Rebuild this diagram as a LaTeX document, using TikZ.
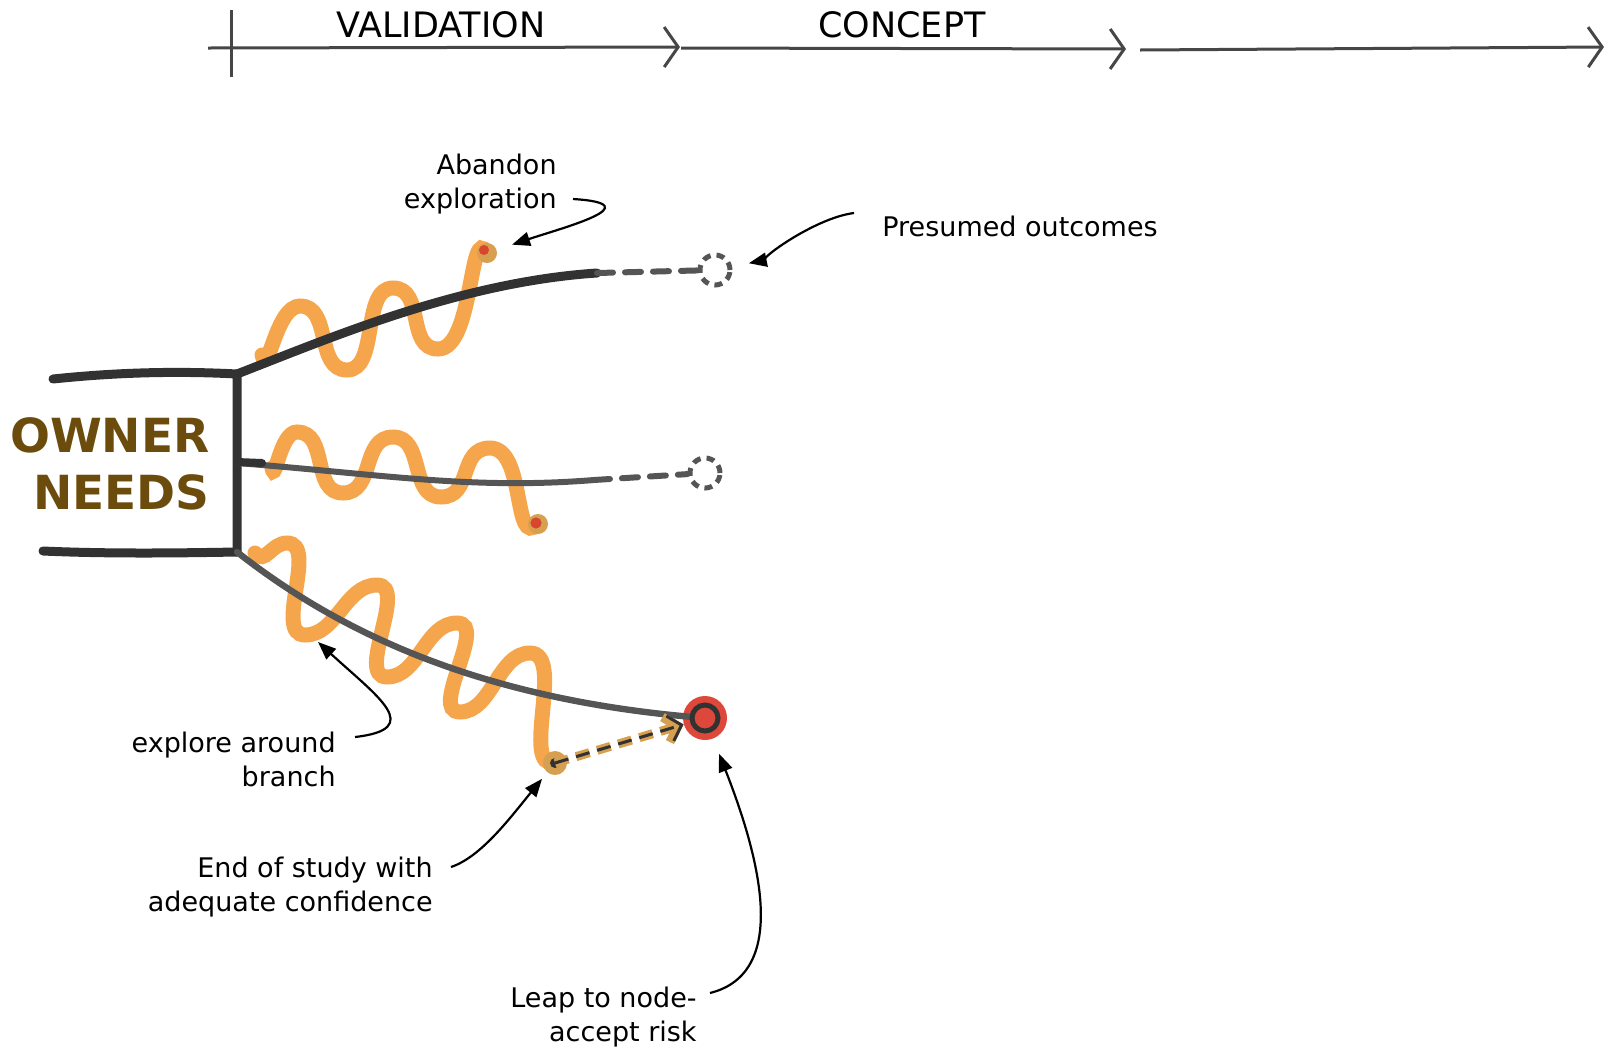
\documentclass[tikz,border=0pt]{standalone}
\usepackage{fontspec}
\setmainfont{DejaVu Sans}
\usetikzlibrary{arrows.meta}
\definecolor{ink}{RGB}{50,50,50}
\definecolor{wiggle}{RGB}{245,166,76}
\definecolor{dotbrown}{RGB}{214,160,80}
\definecolor{speck}{RGB}{215,70,45}
\definecolor{leafred}{RGB}{222,72,58}
\definecolor{dashgray}{RGB}{85,85,85}
\definecolor{timegray}{RGB}{70,70,70}
\definecolor{ownerbrown}{RGB}{107,76,12}
\begin{document}
\begin{tikzpicture}
	[x=0.5pt, y=-0.5pt,
	phase/.style={font=\fontsize{17.5}{20}\selectfont, inner sep=0pt},
	remark/.style={font=\fontsize{13.5}{17}\selectfont, align=right, inner sep=0pt},
	branch/.style={draw=ink, line width=4.5pt, line cap=round, line join=round},
	wig/.style={draw=wiggle, line width=7.5pt, line cap=round},
	hop/.style={out=0, in=180, distance=16pt},
	stub/.style={draw=dashgray, line width=3pt, line cap=round, dash pattern=on 8pt off 6pt},
	ghost/.style={circle, draw=dashgray, line width=2.5pt, dash pattern=on 4pt off 3pt, minimum size=15pt, inner sep=0pt},
	blob/.style={circle, fill=dotbrown, minimum size=10pt, inner sep=0pt},
	pointer/.style={-{Triangle[length=9pt,width=7pt]}, line width=1.1pt},
	timeline/.style={draw=timegray, line width=1.5pt, -{Straight Barb[length=7pt,width=20pt]}}]
	\useasboundingbox (0,0) rectangle (1608,1051);
	\draw[timeline] (208,48) -- (680,47);
	\draw[timeline] (681,48) -- (1126,49);
	\draw[timeline] (1140,50) -- (1604,47);
	\draw[draw=timegray, line width=1.5pt] (231,10) -- (231,77);
	\node[phase] (validation) at (441,25) {VALIDATION};
	\node[phase] (concept) at (902,25) {CONCEPT};
	\node[anchor=east, align=right, inner sep=0pt, text=ownerbrown,
		font=\bfseries\fontsize{23.5}{28.5}\selectfont] (owner) at (210,464) {OWNER\\NEEDS};
	\draw[wig] (262,355) to[out=-75,in=180] (300,306) to[hop] (347,370) to[hop] (393,288)
		to[hop] (438,349) to[out=0,in=120,distance=18pt] (487,253);
	\draw[wig] (272,468) to[out=-80,in=180] (297,432) to[hop] (343,493) to[hop] (393,437)
		to[hop] (441,497) to[hop] (490,448) to[out=0,in=225,distance=18pt] (538,524);
	\draw[wig] (255,553) to[out=-50,in=180,distance=8pt] (287,543) to[hop] (305,635) to[hop] (377,585)
		to[hop] (387,677) to[hop] (457,623) to[hop] (460,712) to[hop] (530,653)
		to[out=0,in=190,distance=18pt] (555,763);
	\node[blob] (dot1) at (487,253) {};
	\node[blob] (dot2) at (538,524) {};
	\node[blob, minimum size=12pt] (dot3) at (555,763) {};
	\fill[speck] (dot1) ++(-3,-3) circle[radius=2.5pt];
	\fill[speck] (dot2) ++(-2,-1) circle[radius=2.8pt];
	\node[ghost] (ghost1) at (715,270) {};
	\node[ghost] (ghost2) at (705,473) {};
	\node[circle, fill=leafred, minimum size=22pt, inner sep=0pt] (leaf) at (705,718) {};
	\coordinate (end1) at (597,273);
	\coordinate (end2) at (594,480);
	\coordinate (twig) at (318,642);
	\draw[branch] (53,379) .. controls (120,372) and (180,371) .. (237,374) -- (237,552);
	\draw[branch] (43,551) .. controls (110,554) and (180,553) .. (237,552);
	\draw[branch] (237,374) .. controls (330,338) and (460,282) .. (end1);
	\draw[branch, draw=dashgray, line width=3pt] (237,463) .. controls (380,474) and (470,490) .. (end2);
	\draw[branch, line width=4pt] (237,462) -- (262,463);
	\draw[branch, draw=dashgray, line width=3.2pt] (237,552) .. controls (330,625) and (470,700) .. (leaf.center);
	\draw[draw=ink, line width=2.5pt, fill=leafred] (leaf) circle[radius=6.5pt];
	\draw[stub] (end1) -- (ghost1);
	\draw[stub] (end2) -- (ghost2);
	\fill[ink] (dot3) circle[radius=2.5pt];
	\draw[draw=dotbrown, line width=4.5pt, dash pattern=on 7pt off 4pt,
		-{Straight Barb[length=6pt,width=13pt]}] (dot3.center) -- (leaf);
	\draw[draw=ink, line width=1.5pt, dash pattern=on 7pt off 4pt,
		-{Straight Barb[length=6pt,width=13pt]}] (dot3.center) -- (leaf);
	\node[remark, anchor=east] (abandon) at (557,184) {Abandon\\exploration};
	\node[remark, anchor=west] (presumed) at (882,226) {Presumed outcomes};
	\node[remark, anchor=east] (explore) at (336,759) {explore around\\branch};
	\node[remark, anchor=east] (endstudy) at (433,887) {End of study with\\adequate confidence};
	\node[remark, anchor=east] (leap) at (697,1017) {Leap to node-\\accept risk};
	\draw[pointer, shorten >=8pt] (abandon.east) ++(16,15) .. controls +(80,5) and +(75,-25) .. (dot1);
	\draw[pointer, shorten >=8.5pt] (presumed.west) ++(-28,-13) .. controls +(-40,5) and +(40,-8) .. (ghost1);
	\draw[pointer] (explore.east) ++(19,-22) .. controls +(70,-8) and +(60,55) .. (twig);
	\draw[pointer, shorten >=4pt] (endstudy.east) ++(18,-20) .. controls +(30,-10) and +(-45,55) .. (dot3);
	\draw[pointer, shorten >=8pt] (leap.east) ++(13,-24) .. controls +(80,-20) and +(55,140) .. (leaf);
\end{tikzpicture}
\end{document}
